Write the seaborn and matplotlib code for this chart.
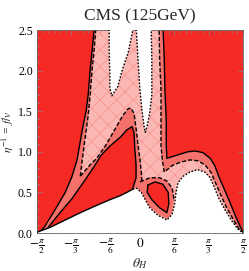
import numpy as np
import matplotlib
matplotlib.use("Agg")
import matplotlib.pyplot as plt
import seaborn as sns

# boundaries: theta_H in rad, f/v
# outer solid line (red -> medium band)
outer_theta = [-1.55, -1.46, -1.30, -1.14, -1.04, -0.96, -0.88, -0.82, -0.79, -0.76, -0.73, -0.70, -0.70,
               0.35, 0.37, 0.38, 0.40, 0.40, 0.41, 0.49, 0.61, 0.73, 0.84, 0.96, 1.07, 1.14, 1.20, 1.28,
               1.37, 1.46, 1.54, 1.57]
outer_fv = [0.00, 0.07, 0.28, 0.50, 0.69, 0.90, 1.27, 1.51, 1.70, 2.01, 2.25, 2.50, 2.55,
            2.55, 2.13, 1.76, 1.39, 1.08, 0.92, 0.94, 0.97, 1.00, 1.01, 0.99, 0.92, 0.83, 0.70, 0.55,
            0.38, 0.20, 0.06, 0.00]

# dashed line (medium -> pink)
pink_theta = [-0.91, -0.88, -0.84, -0.79, -0.76, -0.73, -0.70, -0.67,
              0.29, 0.30, 0.32, 0.32, 0.32, 0.34, 0.37, 0.49, 0.61, 0.76, 0.88, 0.99, 1.08, 1.14,
              1.22, 1.31, 1.42, 1.51, 1.57]
pink_fv = [0.70, 0.90, 1.15, 1.45, 1.70, 2.01, 2.25, 2.55,
           2.55, 2.13, 1.76, 1.39, 1.08, 0.90, 0.75, 0.83, 0.87, 0.90, 0.89, 0.84, 0.75, 0.64,
           0.49, 0.33, 0.17, 0.05, 0.00]
pink_close_theta = [-0.60]
pink_close_fv = [0.00]

# dotted lines (pink -> white), upper two white pockets
lwhite_theta = [-0.47, -0.47, -0.46, -0.46, -0.43, -0.34, -0.27, -0.18, -0.11, -0.09]
lwhite_fv = [2.55, 2.25, 1.95, 1.79, 1.69, 1.80, 2.01, 2.22, 2.50, 2.55]
finger_theta = [-0.06, -0.03, 0.00, 0.03, 0.06, 0.08, 0.11, 0.15, 0.18, 0.18, 0.17]
finger_fv = [2.55, 2.13, 1.76, 1.51, 1.33, 1.24, 1.32, 1.49, 1.70, 2.13, 2.55]

# red tongue: dashed band around it, then solid edge
tband_theta = [-0.91, -0.76, -0.66, -0.53, -0.38, -0.26, -0.18, -0.14, -0.09, -0.06, -0.03, 0.00, 0.02, 0.03]
tband_fv = [0.70, 0.84, 0.92, 1.07, 1.28, 1.45, 1.53, 1.54, 1.47, 1.29, 1.08, 0.90, 0.75, 0.63]
tband_close_theta = [0.03, -1.45, -1.42]
tband_close_fv = [0.41, -0.05, 0.11]

tongue_theta = [-1.40, -1.22, -1.04, -0.84, -0.69, -0.59, -0.46, -0.30, -0.20, -0.12, -0.09, -0.08,
                -0.06, -0.06, -0.11]
tongue_fv = [0.07, 0.25, 0.42, 0.65, 0.83, 0.96, 1.07, 1.18, 1.27, 1.31, 1.23, 1.05, 0.84, 0.68, 0.55]
tongue_close_theta = [0.00, -1.45]
tongue_close_fv = [0.35, -0.05]

# small red blob near pi/6 and the band around it
bband_theta = [0.00, 0.15, 0.30, 0.41, 0.49, 0.52, 0.49, 0.43, 0.30, 0.15, 0.05]
bband_fv = [0.63, 0.68, 0.68, 0.64, 0.55, 0.41, 0.26, 0.17, 0.22, 0.32, 0.44]
blob_theta = [0.12, 0.23, 0.35, 0.43, 0.44, 0.41, 0.30, 0.18, 0.11]
blob_fv = [0.59, 0.63, 0.60, 0.50, 0.36, 0.25, 0.31, 0.41, 0.50]

# white region at the bottom: solid diagonal, then dotted edge
diag_theta = [-1.60, -1.37, -1.14, -0.91, -0.69, -0.46, -0.30, -0.20, -0.11]
diag_fv = [0.00, 0.07, 0.16, 0.25, 0.33, 0.41, 0.46, 0.50, 0.54]
bdot_theta = [-0.11, -0.05, 0.02, 0.08, 0.15, 0.27, 0.41, 0.49, 0.53, 0.55, 0.58, 0.66, 0.76, 0.88,
              0.99, 1.07, 1.13, 1.20, 1.30, 1.40, 1.49, 1.57]
bdot_fv = [0.54, 0.55, 0.50, 0.41, 0.31, 0.22, 0.16, 0.23, 0.37, 0.50, 0.62, 0.70, 0.75, 0.78,
           0.75, 0.68, 0.57, 0.43, 0.28, 0.15, 0.05, 0.00]

xtick_vals = [-np.pi / 2, -np.pi / 3, -np.pi / 6, 0, np.pi / 6, np.pi / 3, np.pi / 2]
xtick_labels = [r'$-\frac{\pi}{2}$', r'$-\frac{\pi}{3}$', r'$-\frac{\pi}{6}$', r'$0$',
                r'$\frac{\pi}{6}$', r'$\frac{\pi}{3}$', r'$\frac{\pi}{2}$']
ytick_vals = [0.0, 0.5, 1.0, 1.5, 2.0, 2.5]

RED = '#f52a25'
MID = '#f4716c'
PINK = '#fbb7b3'
HATCH = '#f7928d'


def fill(ax, th, fv, color, z, hatch=None):
    if hatch:
        ax.fill(th, fv, facecolor=color, edgecolor=HATCH, hatch=hatch, linewidth=0, zorder=z)
    else:
        ax.fill(th, fv, facecolor=color, edgecolor='none', linewidth=0, zorder=z)


def edge(ax, th, fv, style, z):
    sns.lineplot(x=th, y=fv, sort=False, estimator=None, color='black', linestyle=style,
                 linewidth=1.0, ax=ax, legend=False, zorder=z)


def main():
    sns.set_theme(style='ticks')
    plt.rcParams['font.family'] = ['Liberation Serif', 'DejaVu Serif']
    plt.rcParams['mathtext.fontset'] = 'stix'
    plt.rcParams['hatch.linewidth'] = 0.5

    fig = plt.figure(figsize=(2.49, 2.71), dpi=100)
    ax = fig.add_axes([37 / 249, 38 / 271, 206 / 249, 203 / 271])
    ax.set_facecolor(RED)

    dotted = (0, (1.2, 1.2))
    dashed = (0, (3, 1.5))

    fill(ax, outer_theta, outer_fv, MID, 1)
    edge(ax, outer_theta, outer_fv, '-', 1.5)

    fill(ax, pink_theta + pink_close_theta, pink_fv + pink_close_fv, PINK, 2, hatch='xx')
    edge(ax, pink_theta, pink_fv, dashed, 2.5)

    fill(ax, lwhite_theta, lwhite_fv, 'white', 3)
    edge(ax, lwhite_theta, lwhite_fv, dotted, 3.5)
    fill(ax, finger_theta, finger_fv, 'white', 3)
    edge(ax, finger_theta, finger_fv, dotted, 3.5)

    fill(ax, tband_theta + tband_close_theta, tband_fv + tband_close_fv, MID, 4)
    edge(ax, tband_theta, tband_fv, dashed, 4.5)

    fill(ax, tongue_theta + tongue_close_theta, tongue_fv + tongue_close_fv, RED, 5)
    edge(ax, tongue_theta, tongue_fv, '-', 5.5)

    fill(ax, bband_theta, bband_fv, MID, 6)
    edge(ax, bband_theta[:6], bband_fv[:6], dashed, 6.5)

    fill(ax, diag_theta + bdot_theta, diag_fv + bdot_fv, 'white', 7)
    edge(ax, diag_theta, diag_fv, '-', 7.5)
    edge(ax, bdot_theta, bdot_fv, dotted, 7.5)

    fill(ax, blob_theta, blob_fv, RED, 8)
    edge(ax, blob_theta + blob_theta[:1], blob_fv + blob_fv[:1], '-', 8.5)

    ax.set_xlim(-np.pi / 2, np.pi / 2)
    ax.set_ylim(0, 2.5)
    ax.set_xticks(xtick_vals)
    ax.set_xticklabels(xtick_labels, fontsize=9.5)
    ax.set_xticks(np.arange(-np.pi / 2, np.pi / 2 + 0.01, np.pi / 36), minor=True)
    ax.set_yticks(ytick_vals)
    ax.set_yticklabels([f'{v:.1f}' for v in ytick_vals], fontsize=8.5)
    ax.set_yticks(np.arange(0, 2.51, 0.1), minor=True)
    ax.tick_params(which='both', direction='in', top=True, right=True, colors='#888888',
                   labelcolor='black', width=0.5)
    ax.tick_params(axis='x', pad=3)
    ax.tick_params(axis='y', pad=3)
    ax.tick_params(which='major', length=3.5)
    ax.tick_params(which='minor', length=1.8)
    for s in ax.spines.values():
        s.set_linewidth(0.6)
        s.set_color('#666666')

    ax.set_xlabel(r'$\theta_H$', fontsize=10)
    ax.xaxis.set_label_coords(0.5, -0.115)
    ax.set_ylabel(r'$\eta^{-1}$ = $f/v$', fontsize=8.5)
    ax.yaxis.set_label_coords(-0.1, 0.5)
    ax.set_title('CMS (125GeV)', fontsize=12.5, pad=7)

    fig.savefig('out.png', dpi=100)
    plt.close(fig)


if __name__ == "__main__":
    main()
